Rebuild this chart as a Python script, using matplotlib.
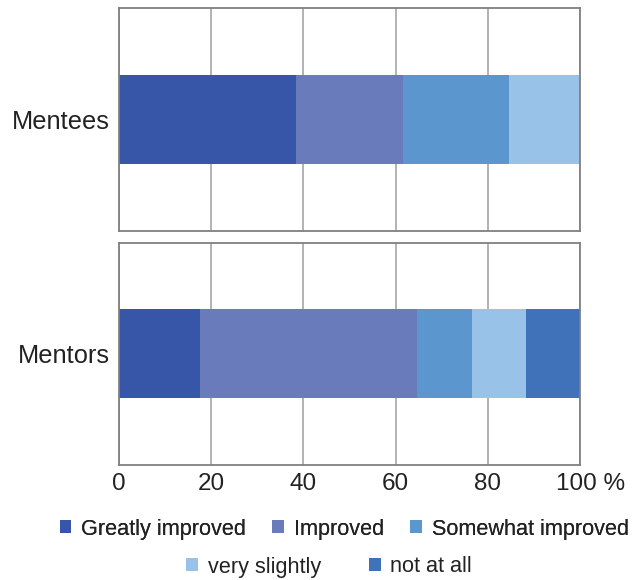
import matplotlib
matplotlib.use("Agg")
import matplotlib.pyplot as plt
from matplotlib.patches import Patch
from matplotlib.transforms import ScaledTranslation

plt.rcParams['font.family'] = ['Liberation Sans', 'DejaVu Sans']

categories = ["Greatly improved", "Improved", "Somewhat improved", "very slightly", "not at all"]
groups = ["Mentees", "Mentors"]
mentees = [38.5, 23.1, 23.1, 15.3, 0.0]
mentors = [17.6, 47.1, 11.8, 11.8, 11.7]
xticks = [0, 20, 40, 60, 80, 100]
xtick_labels = ["0", "20", "40", "60", "80", "100 %"]

colors = ["#3756A8", "#6A7BBC", "#5B96CF", "#98C2E8", "#3F72B8"]
text_color = "#222222"
frame_color = "#808080"
grid_color = "#A6A6A6"

fig = plt.figure(figsize=(6.37, 5.80), dpi=100)
ax_top = fig.add_axes([119 / 637, 1 - 231 / 580, 461 / 637, 223 / 580])
ax_bot = fig.add_axes([119 / 637, 1 - 464.5 / 580, 461 / 637, 222 / 580])

for ax, name, values in [(ax_top, groups[0], mentees), (ax_bot, groups[1], mentors)]:
    left = 0.0
    for val, col in zip(values, colors):
        if val > 0:
            ax.barh(0, val, left=left, height=0.4, color=col, edgecolor="none", zorder=3)
        left += val
    ax.set_xlim(0, 100)
    ax.set_ylim(-0.5, 0.5)
    ax.set_yticks([0])
    ax.set_yticklabels([name], fontsize=18.3, color=text_color)
    ax.set_xticks(xticks)
    ax.tick_params(axis="both", length=0)
    ax.tick_params(axis="y", pad=6.5)
    ax.tick_params(axis="x", pad=6)
    ax.grid(axis="x", color=grid_color, linewidth=1.2, zorder=1)
    for sp in ax.spines.values():
        sp.set_color(frame_color)
        sp.set_linewidth(1.3)
        sp.set_zorder(4)

ax_top.set_xticklabels([])
labels = ax_bot.set_xticklabels(xtick_labels, fontsize=17.5, color=text_color)
# the last label carries the unit, so nudge it right of its tick
last = labels[-1]
last.set_transform(last.get_transform() + ScaledTranslation(11 / 100, 0, fig.dpi_scale_trans))

handles = [Patch(facecolor=c, edgecolor="none") for c in colors]
leg_kw = dict(frameon=False, fontsize=15.6, handlelength=0.55, handleheight=0.55,
              handletextpad=0.45, columnspacing=1.2, labelcolor=text_color,
              borderpad=0, borderaxespad=0)
leg1 = fig.legend(handles[:3], categories[:3], ncol=3, loc="center",
                  bbox_to_anchor=(344 / 637, 1 - 529 / 580), **leg_kw)
fig.add_artist(leg1)
fig.legend(handles[3:], categories[3:], ncol=2, loc="center",
           bbox_to_anchor=(329 / 637, 1 - 567 / 580), **dict(leg_kw, columnspacing=2.2))

fig.savefig("out.png", dpi=100, facecolor="white")
